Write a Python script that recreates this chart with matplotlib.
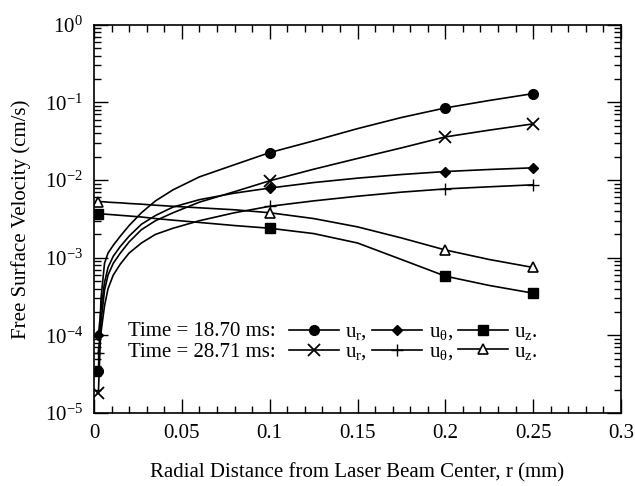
import numpy as np
import matplotlib
matplotlib.use('Agg')
from matplotlib import pyplot as plt
from matplotlib.ticker import MultipleLocator, LogLocator, LogFormatterMathtext, NullFormatter

plt.rcParams['font.family'] = ['Liberation Serif', 'DejaVu Serif']
plt.rcParams['mathtext.fontset'] = 'stix'
plt.rcParams['font.size'] = 15

# radial distance (mm)
r = [0.0025, 0.004, 0.006, 0.008, 0.011, 0.015, 0.02, 0.027, 0.035, 0.045,
     0.06, 0.08, 0.1, 0.125, 0.15, 0.175, 0.2, 0.225, 0.25]
marked = [0, 12, 16, 18]

# Time = 18.70 ms
ur_1870 = [3.5e-5, 3.0e-4, 8.5e-4, 1.15e-3, 1.45e-3, 1.9e-3, 2.6e-3, 3.8e-3, 5.4e-3, 7.5e-3,
           0.011, 0.0158, 0.0226, 0.032, 0.046, 0.064, 0.085, 0.106, 0.13]
uth_1870 = [1.0e-4, 2.2e-4, 4.8e-4, 7.5e-4, 1.05e-3, 1.4e-3, 1.9e-3, 2.7e-3, 3.5e-3, 4.5e-3,
            5.6e-3, 6.8e-3, 7.9e-3, 9.3e-3, 0.0106, 0.0118, 0.0129, 0.0137, 0.0144]
uz_1870 = [3.7e-3, 3.68e-3, 3.65e-3, 3.62e-3, 3.58e-3, 3.52e-3, 3.45e-3, 3.35e-3, 3.2e-3, 3.05e-3,
           2.85e-3, 2.6e-3, 2.4e-3, 2.05e-3, 1.55e-3, 9.5e-4, 5.8e-4, 4.4e-4, 3.5e-4]

# Time = 28.71 ms
ur_2871 = [1.8e-5, 1.5e-4, 3.8e-4, 6.0e-4, 8.5e-4, 1.15e-3, 1.6e-3, 2.3e-3, 3.0e-3, 3.8e-3,
           5.2e-3, 7.1e-3, 9.8e-3, 0.0138, 0.019, 0.026, 0.036, 0.044, 0.053]
uth_2871 = [6.0e-5, 1.1e-4, 2.4e-4, 4.0e-4, 6.0e-4, 8.3e-4, 1.15e-3, 1.55e-3, 2.0e-3, 2.4e-3,
            3.0e-3, 3.8e-3, 4.6e-3, 5.4e-3, 6.2e-3, 7.0e-3, 7.7e-3, 8.2e-3, 8.7e-3]
uz_2871 = [5.3e-3, 5.28e-3, 5.25e-3, 5.2e-3, 5.15e-3, 5.1e-3, 5.0e-3, 4.9e-3, 4.75e-3, 4.6e-3,
           4.4e-3, 4.15e-3, 3.8e-3, 3.2e-3, 2.5e-3, 1.8e-3, 1.26e-3, 9.5e-4, 7.5e-4]

fig = plt.figure(figsize=(6.35, 4.86), dpi=100)
ax = fig.add_axes([0.148, 0.150, 0.830, 0.799])

kw = dict(color='k', lw=1.2, markevery=marked, solid_joinstyle='round')
h1, = ax.plot(r, ur_1870, marker='o', ms=7, **kw)
h2, = ax.plot(r, uth_1870, marker='D', ms=5.5, **kw)
h3, = ax.plot(r, uz_1870, marker='s', ms=6.5, **kw)
h4, = ax.plot(r, ur_2871, marker='x', ms=8, mew=1.3, **kw)
h5, = ax.plot(r, uth_2871, marker='+', ms=9, mew=1.0, **kw)
h6, = ax.plot(r, uz_2871, marker='^', ms=7, mfc='white', mew=1.2, **kw)

ax.set_yscale('log')
ax.set_xlim(0, 0.3)
ax.set_ylim(1e-5, 1)
ax.xaxis.set_minor_locator(MultipleLocator(0.01))
ax.set_xticks([0, 0.05, 0.1, 0.15, 0.2, 0.25, 0.3])
ax.set_xticklabels(['0', '0.05', '0.1', '0.15', '0.2', '0.25', '0.3'])
ax.yaxis.set_major_locator(LogLocator(base=10, numticks=10))
ax.yaxis.set_major_formatter(LogFormatterMathtext())
ax.yaxis.set_minor_locator(LogLocator(base=10, subs=np.arange(2, 10), numticks=10))
ax.yaxis.set_minor_formatter(NullFormatter())
ax.tick_params(which='both', direction='in', top=True, right=True, width=1.0)
ax.tick_params(which='major', length=10, pad=8)
ax.tick_params(which='minor', length=5)
for s in ax.spines.values():
    s.set_linewidth(1.2)

ax.set_xlabel('Radial Distance from Laser Beam Center, r (mm)', labelpad=14)
ax.set_ylabel('Free Surface Velocity (cm/s)', labelpad=10)

ax.text(0.064, 0.209, 'Time = 18.70 ms:', transform=ax.transAxes, va='center', ha='left')
ax.text(0.064, 0.155, 'Time = 28.71 ms:', transform=ax.transAxes, va='center', ha='left')
handles = [h1, h4, h2, h5, h3, h6]
labels = ['$\\mathregular{u_r}$,', '$\\mathregular{u_r}$,', '$\\mathregular{u_\\theta}$,',
          '$\\mathregular{u_\\theta}$,', '$\\mathregular{u_z}$.', '$\\mathregular{u_z}$.']
ax.legend(handles, labels, ncol=3, frameon=False, loc='center left',
          bbox_to_anchor=(0.35, 0.182), handlelength=2.4, handletextpad=0.3,
          columnspacing=0.25, labelspacing=0.0, borderpad=0, markerfirst=True)

plt.savefig('out.png', dpi=100)
